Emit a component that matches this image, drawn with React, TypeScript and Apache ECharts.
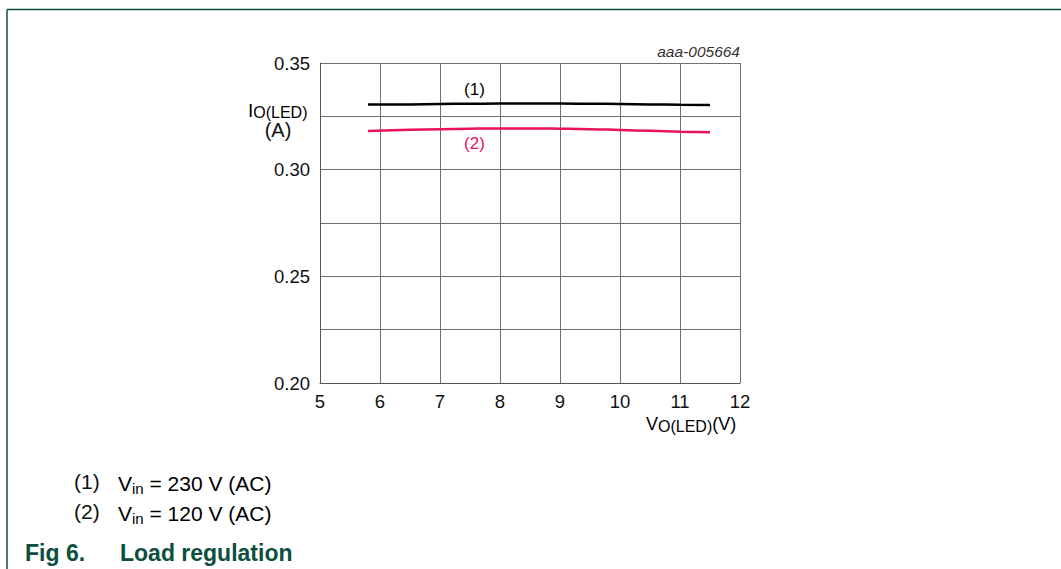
import React, { useEffect, useRef } from "react";
import * as echarts from "echarts";

const voltages = [5.8, 6.5, 7.0, 7.5, 8.0, 8.5, 9.0, 9.5, 10.0, 10.5, 11.0, 11.5];
const current230 = [0.3305, 0.3306, 0.3308, 0.3309, 0.331, 0.331, 0.331, 0.3309, 0.3308, 0.3306, 0.3304, 0.3303];
const current120 = [0.3181, 0.3187, 0.319, 0.3192, 0.3193, 0.3193, 0.3192, 0.319, 0.3186, 0.3182, 0.3178, 0.3175];
const seriesNames = ["(1)", "(2)"];
const noteLabels = ["(1)", "(2)"];
const noteValues = [" = 230 V (AC)", " = 120 V (AC)"];
const xMin = 5, xMax = 12, xStep = 1;
const yMin = 0.2, yMax = 0.35, yStep = 0.025;

const BLACK = "#000000";
const RED = "#e8115a";
const GREEN = "#0b4f3c";
const FONT = "'Liberation Sans', Arial, sans-serif";

export default function App() {
  const ref = useRef<HTMLDivElement>(null);
  useEffect(() => {
    if (!ref.current) return;
    const chart = echarts.init(ref.current, null, { renderer: "svg" });
    const zip = (ys: number[]) => voltages.map((v, i) => [v, ys[i]]);
    chart.setOption({
      animation: false,
      backgroundColor: "#ffffff",
      textStyle: { fontFamily: FONT },
      grid: { left: 320, right: 321, top: 63, bottom: 186, containLabel: false },
      xAxis: {
        type: "value",
        min: xMin,
        max: xMax,
        interval: xStep,
        axisLine: { show: true, lineStyle: { color: "#555", width: 1 } },
        axisTick: { show: false },
        axisLabel: { color: "#111", fontSize: 18.5, margin: 9, fontFamily: FONT },
        splitLine: { show: true, lineStyle: { color: "#707070", width: 1 } },
      },
      yAxis: {
        type: "value",
        min: yMin,
        max: yMax,
        interval: yStep,
        axisLine: { show: true, lineStyle: { color: "#555", width: 1 } },
        axisTick: { show: false },
        axisLabel: {
          color: "#111",
          fontSize: 18.5,
          margin: 10,
          fontFamily: FONT,
          formatter: (v: number) => (Math.round(v * 1000) % 50 === 0 ? v.toFixed(2) : ""),
        },
        splitLine: { show: true, lineStyle: { color: "#707070", width: 1 } },
      },
      series: [
        {
          name: seriesNames[0],
          type: "line",
          data: zip(current230),
          smooth: true,
          symbol: "none",
          lineStyle: { color: BLACK, width: 2.5 },
          z: 3,
        },
        {
          name: seriesNames[1],
          type: "line",
          data: zip(current120),
          smooth: true,
          symbol: "none",
          lineStyle: { color: RED, width: 2.5 },
          z: 3,
        },
      ],
    });

    const p1 = chart.convertToPixel({ gridIndex: 0 }, [7.575, 0.3377]) as number[];
    const p2 = chart.convertToPixel({ gridIndex: 0 }, [7.575, 0.3122]) as number[];

    const noteRich = {
      m: { fontSize: 21, lineHeight: 26, fontFamily: FONT, color: "#111" },
      s: { fontSize: 15, lineHeight: 15, fontFamily: FONT, color: "#111", verticalAlign: "bottom" },
    };

    chart.setOption({
      graphic: [
        { type: "line", shape: { x1: 7, y1: 9.5, x2: 1061, y2: 9.5 }, style: { stroke: GREEN, lineWidth: 1.5 } },
        { type: "line", shape: { x1: 7, y1: 9.5, x2: 7, y2: 569 }, style: { stroke: GREEN, lineWidth: 1.5 } },
        {
          type: "text",
          x: 740,
          y: 51,
          style: { text: "aaa-005664", font: `italic 15.5px ${FONT}`, fill: "#333", textAlign: "right", textVerticalAlign: "middle" },
        },
        {
          type: "text",
          x: 248,
          y: 110,
          style: {
            text: "{m|I}{s|O(LED)}",
            textVerticalAlign: "middle",
            rich: {
              m: { fontSize: 19, lineHeight: 20, fontFamily: FONT, color: "#111" },
              s: { fontSize: 16, lineHeight: 16, fontFamily: FONT, color: "#111", verticalAlign: "bottom" },
            },
          },
        },
        {
          type: "text",
          x: 278,
          y: 130,
          style: { text: "(A)", font: `20px ${FONT}`, fill: "#111", textAlign: "center", textVerticalAlign: "middle" },
        },
        {
          type: "text",
          x: 646,
          y: 424,
          style: {
            text: "{m|V}{s|O(LED)}{m|(V)}",
            textVerticalAlign: "middle",
            rich: {
              m: { fontSize: 18, lineHeight: 20, fontFamily: FONT, color: "#111" },
              s: { fontSize: 16, lineHeight: 16, fontFamily: FONT, color: "#111", verticalAlign: "bottom" },
            },
          },
        },
        {
          type: "text",
          x: p1[0],
          y: p1[1],
          style: { text: seriesNames[0], font: `17px ${FONT}`, fill: BLACK, textAlign: "center", textVerticalAlign: "middle" },
        },
        {
          type: "text",
          x: p2[0],
          y: p2[1],
          style: { text: seriesNames[1], font: `17px ${FONT}`, fill: RED, textAlign: "center", textVerticalAlign: "middle" },
        },
        ...noteLabels.flatMap((lab, i) => [
          {
            type: "text",
            x: 74,
            y: 481 + i * 30,
            style: { text: lab, font: `21px ${FONT}`, fill: "#111", textVerticalAlign: "middle" },
          },
          {
            type: "text",
            x: 118,
            y: 483 + i * 30,
            style: { text: `{m|V}{s|in}{m|${noteValues[i]}}`, textVerticalAlign: "middle", rich: noteRich },
          },
        ]),
        {
          type: "text",
          x: 25,
          y: 553,
          style: { text: "Fig 6.", font: `bold 23px ${FONT}`, fill: GREEN, textVerticalAlign: "middle" },
        },
        {
          type: "text",
          x: 120,
          y: 553,
          style: { text: "Load regulation", font: `bold 23px ${FONT}`, fill: GREEN, textVerticalAlign: "middle" },
        },
      ],
    });
    return () => chart.dispose();
  }, []);
  return <div ref={ref} style={{ position: "absolute", left: 0, top: 0, width: 1061, height: 569 }} />;
}
